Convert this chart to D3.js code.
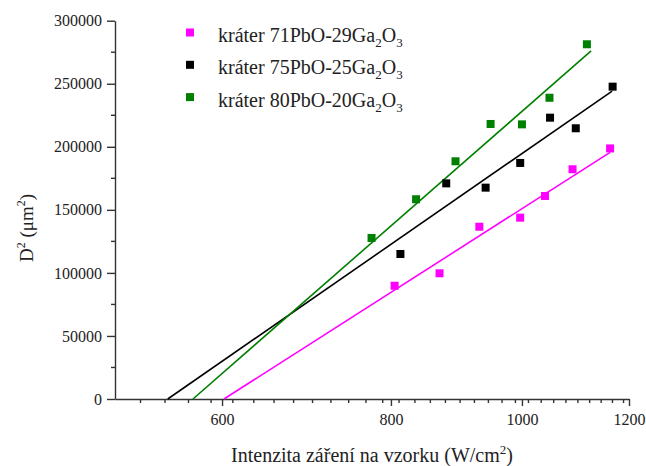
<!DOCTYPE html>
<html lang="en">
<head>
    <meta charset="UTF-8">
    <title>Krátery - D2 vs intenzita</title>
    <script src="https://d3js.org/d3.v7.min.js"></script>
    <style>
        body { margin: 0; background: #fff; }
        .axis path, .axis line { stroke: #333; stroke-width: 1.4px; }
    </style>
</head>
<body>
<svg id="chart" width="646" height="466"></svg>
<script>
    const FONT = "Liberation Serif";

    // series names (rendered with subscripts)
    const seriesNames = ["kráter 71PbO-29Ga|2|O|3", "kráter 75PbO-25Ga|2|O|3", "kráter 80PbO-20Ga|2|O|3"];
    const seriesColors = ["#ff00ff", "#000000", "#008000"];

    // measured points: intensity (W/cm2) and D2 (um2)
    const pinkX = [805, 869, 930, 997, 1040, 1090, 1162];
    const pinkY = [89800, 99700, 136600, 143800, 161000, 182200, 198700];
    const blackX = [813, 879, 940, 997, 1049, 1096, 1167];
    const blackY = [115000, 171000, 167600, 187200, 223100, 214700, 247700];
    const greenX = [774, 835, 893, 948, 1000, 1048, 1117];
    const greenY = [127700, 158400, 188500, 218100, 217800, 238900, 281300];

    // fitted lines (start / end)
    const fitPinkX = [602, 1162];
    const fitPinkY = [0, 195600];
    const fitBlackX = [547, 1166];
    const fitBlackY = [0, 244200];
    const fitGreenX = [571, 1125];
    const fitGreenY = [0, 276000];

    const xTicks = [600, 800, 1000, 1200];
    const yTicks = [0, 50000, 100000, 150000, 200000, 250000, 300000];

    const series = [
        { x: pinkX, y: pinkY, fx: fitPinkX, fy: fitPinkY },
        { x: blackX, y: blackY, fx: fitBlackX, fy: fitBlackY },
        { x: greenX, y: greenY, fx: fitGreenX, fy: fitGreenY }
    ];

    const svg = d3.select("#chart");

    const x = d3.scaleLog().domain([500, 1200]).range([115, 629]);
    const y = d3.scaleLinear().domain([0, 300000]).range([399, 20.7]);

    // minor ticks: 8 between each pair of majors on x, halves on y
    const xMinor = [];
    for (let v = 500; v < 1200; v += 200 / 9) {
        const r = Math.round(v * 1000) / 1000;
        if (!xTicks.some(t => Math.abs(t - r) < 0.01) && r > 505) xMinor.push(r);
    }
    const yMinor = d3.range(25000, 300000, 50000);

    // x axis
    const gx = svg.append("g").attr("class", "axis")
        .attr("transform", "translate(0,399)")
        .call(d3.axisBottom(x).tickValues(xTicks).tickFormat(d3.format("d")).tickSize(7).tickSizeOuter(0).tickPadding(8));
    gx.attr("font-family", FONT);
    gx.selectAll("text").attr("font-family", FONT).attr("font-size", 16).attr("fill", "#222");
    gx.append("g").selectAll("line").data(xMinor).enter().append("line")
        .attr("x1", d => x(d)).attr("x2", d => x(d))
        .attr("y1", 0).attr("y2", 4);

    // y axis
    const gy = svg.append("g").attr("class", "axis")
        .attr("transform", "translate(115,0)")
        .call(d3.axisLeft(y).tickValues(yTicks).tickFormat(d3.format("d")).tickSize(8).tickSizeOuter(0).tickPadding(5));
    gy.attr("font-family", FONT);
    gy.selectAll("text").attr("font-family", FONT).attr("font-size", 16).attr("fill", "#222");
    gy.append("g").selectAll("line").data(yMinor).enter().append("line")
        .attr("y1", d => y(d)).attr("y2", d => y(d))
        .attr("x1", 0).attr("x2", -4);

    // fit lines
    const line = d3.line().x(d => x(d[0])).y(d => y(d[1]));
    series.forEach((s, i) => {
        svg.append("path")
            .datum(s.fx.map((v, k) => [v, s.fy[k]]))
            .attr("d", line)
            .attr("fill", "none")
            .attr("stroke", seriesColors[i])
            .attr("stroke-width", 1.6);
    });

    // points
    series.forEach((s, i) => {
        svg.append("g").selectAll("rect")
            .data(s.x.map((v, k) => [v, s.y[k]]))
            .enter().append("rect")
            .attr("x", d => x(d[0]) - 4)
            .attr("y", d => y(d[1]) - 4)
            .attr("width", 8)
            .attr("height", 8)
            .attr("fill", seriesColors[i]);
    });

    // legend
    const legend = svg.append("g");
    seriesNames.forEach((name, i) => {
        const cy = 32.5 + i * 32.3;
        legend.append("rect")
            .attr("x", 186).attr("y", cy - 4)
            .attr("width", 8).attr("height", 8)
            .attr("fill", seriesColors[i]);
        const parts = name.split("|");
        const t = legend.append("text")
            .attr("x", 218).attr("y", cy + 9.5)
            .attr("font-family", FONT).attr("fill", "#222")
            .attr("font-size", 20);
        t.append("tspan").text(parts[0]);
        t.append("tspan").attr("font-size", 13).attr("dy", 5).text(parts[1]);
        t.append("tspan").attr("dy", -5).text(parts[2]);
        t.append("tspan").attr("font-size", 13).attr("dy", 5).text(parts[3]);
    });

    // axis titles
    const xt = svg.append("text")
        .attr("x", 372).attr("y", 462)
        .attr("text-anchor", "middle")
        .attr("font-family", FONT).attr("fill", "#222")
        .attr("font-size", 20);
    xt.append("tspan").text("Intenzita záření na vzorku (W/cm");
    xt.append("tspan").attr("font-size", 13).attr("dy", -8).text("2");
    xt.append("tspan").attr("dy", 8).text(")");

    const yt = svg.append("text")
        .attr("transform", "translate(33,228) rotate(-90)")
        .attr("text-anchor", "middle")
        .attr("font-family", FONT).attr("fill", "#222")
        .attr("font-size", 19);
    yt.append("tspan").text("D");
    yt.append("tspan").attr("font-size", 12).attr("dy", -8).text("2");
    yt.append("tspan").attr("dy", 8).text(" (μm");
    yt.append("tspan").attr("font-size", 12).attr("dy", -8).text("2");
    yt.append("tspan").attr("dy", 8).text(")");
</script>
</body>
</html>
